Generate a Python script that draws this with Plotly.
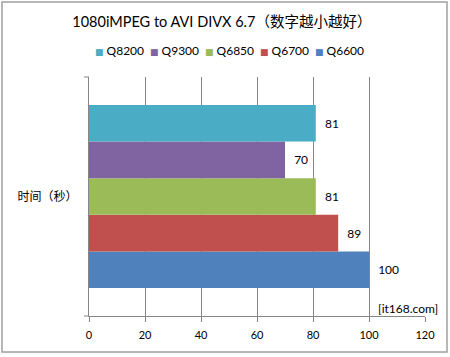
import plotly.graph_objects as go

category = ["时间（秒）"]
series = ["Q6600", "Q6700", "Q6850", "Q9300", "Q8200"]
values = [100, 89, 81, 70, 81]
colors = ["#4F81BD", "#C0504D", "#9BBB59", "#8064A2", "#4BACC6"]
x_ticks = [0, 20, 40, 60, 80, 100, 120]
title_text = "1080iMPEG to AVI DIVX 6.7（数字越小越好）"
watermark = "[it168.com]"

FONT = "Lato, 'Noto Sans CJK SC', sans-serif"

fig = go.Figure()
for name, v, c in zip(series, values, colors):
    fig.add_trace(go.Bar(
        y=category, x=[v], name=name, orientation="h",
        marker=dict(color=c, line=dict(width=0)),
        text=["\u00a0\u00a0" + str(v)], textposition="outside",
        textfont=dict(size=12, color="#000000", family=FONT),
        cliponaxis=False, showlegend=False,
    ))
# spacer entry (shown last because legend order is reversed) so the final item is not clipped
fig.add_trace(go.Scatter(x=[None], y=[None], mode="none", showlegend=True, name=" "))
# legend entries: coloured small square glyph before the name
for name, c in zip(series, colors):
    fig.add_trace(go.Scatter(
        x=[None], y=[None], mode="none", showlegend=True,
        name=f"<span style='color:{c};font-size:9px;font-family:DejaVu Sans'>■</span> {name}",
    ))

W, H = 450, 357
L, R, T, B = 89, 25, 77, 41
pw, ph = W - L - R, H - T - B

def px(x):
    return (x - L) / pw

def py(y):
    return (H - B - y) / ph

fig.update_layout(
    width=W, height=H,
    margin=dict(l=L, r=R, t=T, b=B, autoexpand=False),
    paper_bgcolor="white", plot_bgcolor="white",
    barmode="group", bargap=0.234, bargroupgap=0,
    font=dict(family=FONT, size=12, color="#000000"),
    title=dict(text=title_text, x=0.493, xanchor="center", y=1 - 22 / H, yanchor="middle",
               font=dict(size=14.5, family=FONT, color="#000000")),
    showlegend=True,
    legend=dict(orientation="h", traceorder="reversed", x=px(55), xanchor="left",
                y=py(50), yanchor="middle", font=dict(size=12, family=FONT),
                itemwidth=30, entrywidth=10, bgcolor="rgba(0,0,0,0)"),
    xaxis=dict(range=[0, 120], tickvals=x_ticks, showgrid=True, gridcolor="#868686", gridwidth=1,
               zeroline=False, showline=True, linecolor="#868686", ticks="outside", ticklen=5,
               tickcolor="#868686", tickfont=dict(size=11, family=FONT), fixedrange=True,
               automargin=False, ticklabelstandoff=4),
    yaxis=dict(showgrid=False, zeroline=False, showline=True, linecolor="#868686",
               ticks="outside", ticklen=0, tickfont=dict(size=12, family=FONT), ticklabelstandoff=8,
               automargin=False, fixedrange=True),
    shapes=[
        dict(type="rect", xref="paper", yref="paper", x0=px(2), x1=px(447), y0=py(352), y1=py(2),
             line=dict(color="#A0A0A0", width=1.5), fillcolor="rgba(0,0,0,0)", layer="below"),
        dict(type="line", xref="paper", yref="paper", x0=px(84), x1=0, y0=1, y1=1,
             line=dict(color="#868686", width=1)),
        dict(type="line", xref="paper", yref="paper", x0=px(84), x1=0, y0=0, y1=0,
             line=dict(color="#868686", width=1)),
    ],
    annotations=[
        dict(text=watermark, xref="paper", yref="paper", x=px(440), y=py(308), xanchor="right",
             yanchor="middle", showarrow=False, font=dict(size=12, family=FONT, color="#000000"),
             bgcolor="rgba(0,0,0,0)"),
    ],
)

fig.write_html("out.html", config={"displayModeBar": False},
               post_script="document.body.style.margin='0';document.body.style.padding='0';")
